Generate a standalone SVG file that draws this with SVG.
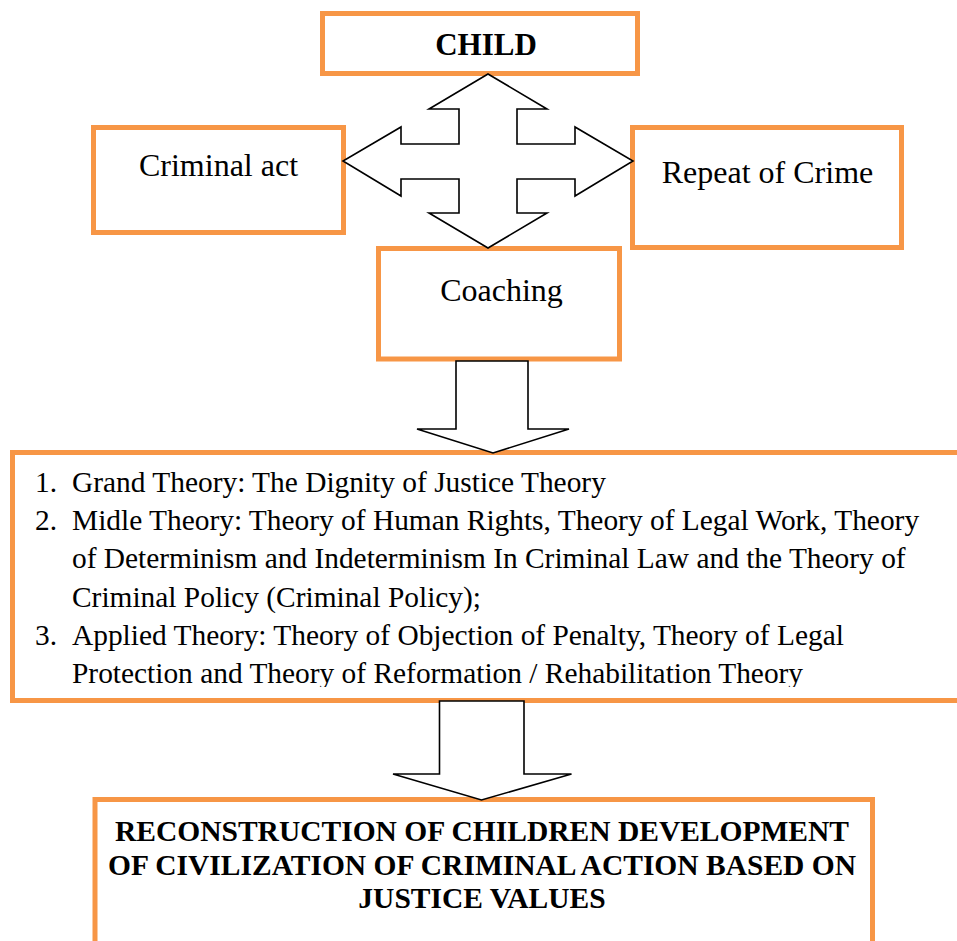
<svg xmlns="http://www.w3.org/2000/svg" width="957" height="941" viewBox="0 0 957 941">
<style>
.box{fill:#fff;stroke:#F79646;stroke-width:5}
.arr{fill:#fff;stroke:#000;stroke-width:1.6;stroke-linejoin:miter}
.t{font-family:"Liberation Serif","Times New Roman",serif;fill:#000}
.b{font-weight:bold}
</style>
<defs>
<clipPath id="clipTheory"><rect x="15" y="455" width="942" height="232"/></clipPath>
</defs>
<rect width="957" height="941" fill="#fff"/>
<g id="child">
<rect class="box" x="322.5" y="13.5" width="315" height="60"/>
<text class="t b" x="486" y="55" font-size="31" text-anchor="middle">CHILD</text>
</g>
<g id="criminal-act">
<rect class="box" x="93.5" y="127.5" width="250" height="105"/>
<text class="t" x="218.5" y="176" font-size="32" text-anchor="middle">Criminal act</text>
</g>
<g id="repeat-of-crime">
<rect class="box" x="632.5" y="127.5" width="269" height="120"/>
<text class="t" x="767.5" y="183" font-size="32" text-anchor="middle">Repeat of Crime</text>
</g>
<g id="coaching">
<rect class="box" x="378.5" y="248.5" width="241" height="110.5"/>
<text class="t" x="501.5" y="301" font-size="32" text-anchor="middle">Coaching</text>
</g>
<g id="theories">
<rect class="box" x="12.5" y="452.5" width="960" height="248"/>
<g clip-path="url(#clipTheory)" class="t" font-size="29.4">
<text x="35" y="492">1.</text><text x="72" y="492">Grand Theory: The Dignity of Justice Theory</text>
<text x="35" y="530">2.</text><text x="72" y="530">Midle Theory: Theory of Human Rights, Theory of Legal Work, Theory</text>
<text x="72" y="568">of Determinism and Indeterminism In Criminal Law and the Theory of</text>
<text x="72" y="607">Criminal Policy (Criminal Policy);</text>
<text x="35" y="645">3.</text><text x="72" y="645">Applied Theory: Theory of Objection of Penalty, Theory of Legal</text>
<text x="72" y="683">Protection and Theory of Reformation / Rehabilitation Theory</text>
</g>
</g>
<g id="reconstruction">
<rect class="box" x="95" y="799.5" width="777.5" height="160"/>
<g class="t b" font-size="29.5" text-anchor="middle">
<text x="482" y="841">RECONSTRUCTION OF CHILDREN DEVELOPMENT</text>
<text x="482" y="875">OF CIVILIZATION OF CRIMINAL ACTION BASED ON</text>
<text x="482" y="908">JUSTICE VALUES</text>
</g>
</g>
<g id="connectors">
<polygon class="arr" points="488,74 547,109 517,109 517,144 575,144 575,127 633,161 575,196 575,179 517,179 517,213 547,213 488,248 429,213 459,213 459,179 401,179 401,196 343,161 401,127 401,144 459,144 459,109 429,109"/>
<polygon class="arr" points="456,361 528,361 528,429 569,429 493,453 417,429 456,429"/>
<polygon class="arr" points="439.5,701 524,701 524,774 571.5,774 481.5,800 393,774 439.5,774"/>
</g>
</svg>
